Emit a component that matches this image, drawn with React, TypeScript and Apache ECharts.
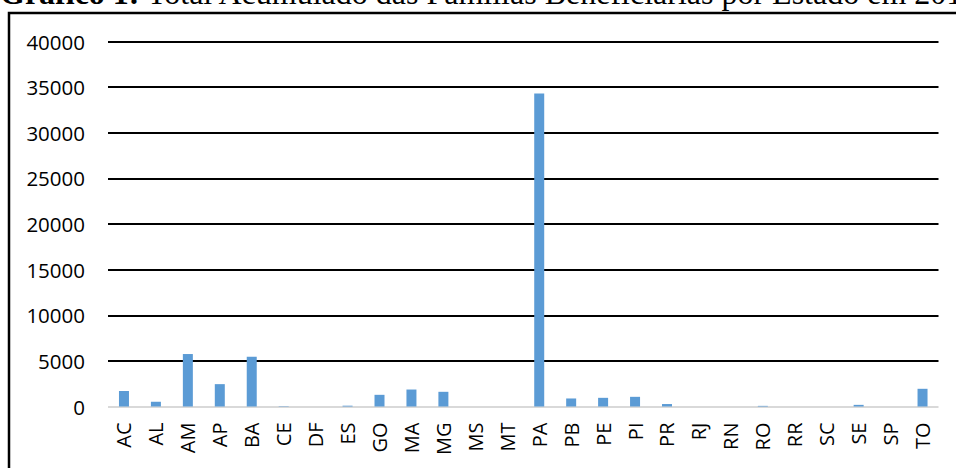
import React, { useEffect, useRef } from "react";
import * as echarts from "echarts";

const categories = ["AC","AL","AM","AP","BA","CE","DF","ES","GO","MA","MG","MS","MT","PA","PB","PE","PI","PR","RJ","RN","RO","RR","SC","SE","SP","TO"];
const families = [1700, 520, 5750, 2450, 5450, 40, 0, 90, 1280, 1860, 1610, 0, 0, 34300, 880, 950, 1060, 270, 0, 0, 70, 0, 0, 180, 0, 1940];
const yTicks = [0, 5000, 10000, 15000, 20000, 25000, 30000, 35000, 40000];
const titleBold = "Gráfico 1:";
const titleRest = " Total Acumulado das Famílias Beneficiárias por Estado em 201";

export default function App() {
  const ref = useRef<HTMLDivElement>(null);
  useEffect(() => {
    document.body.style.margin = "0";
    const chart = echarts.init(ref.current!, null, { renderer: "svg" });
    const gridColors = yTicks.map((v) => (v === 0 ? "#d9d9d9" : "#000000"));
    chart.setOption({
      animation: false,
      backgroundColor: "#ffffff",
      grid: { left: 108, right: 17.5, top: 41.5, bottom: 61.5, containLabel: false },
      xAxis: {
        type: "category",
        data: categories,
        axisTick: { show: false },
        axisLine: { show: false },
        axisLabel: {
          rotate: 90,
          margin: 16,
          interval: 0,
          color: "#000",
          fontSize: 20,
          fontFamily: "Open Sans",
        },
      },
      yAxis: {
        type: "value",
        min: 0,
        max: 40000,
        interval: 5000,
        axisLine: { show: false },
        axisTick: { show: false },
        axisLabel: {
          margin: 23,
          color: "#000",
          fontSize: 20.5,
          fontFamily: "Open Sans",
          formatter: (v: number) => String(v),
        },
        splitLine: { show: true, lineStyle: { color: gridColors, width: 2 } },
      },
      series: [
        {
          type: "bar",
          data: families,
          barWidth: 10,
          itemStyle: { color: "#5b9bd5" },
        },
      ],
      graphic: [
        {
          type: "rect",
          shape: { x: 9, y: 13, width: 1000, height: 500 },
          style: { fill: "none", stroke: "#000", lineWidth: 2.5 },
          silent: true,
        },
        {
          type: "text",
          x: 0,
          y: -7,
          style: {
            text: "{b|" + titleBold + "}" + titleRest,
            rich: { b: { fontWeight: "bold", fontSize: 32, fontFamily: "Liberation Serif", fill: "#000" } },
            fontSize: 32,
            fontFamily: "Liberation Serif",
            fill: "#000",
            verticalAlign: "middle",
            align: "left",
          },
        },
      ],
    });
    return () => chart.dispose();
  }, []);
  return <div ref={ref} style={{ width: 956, height: 468 }} />;
}
